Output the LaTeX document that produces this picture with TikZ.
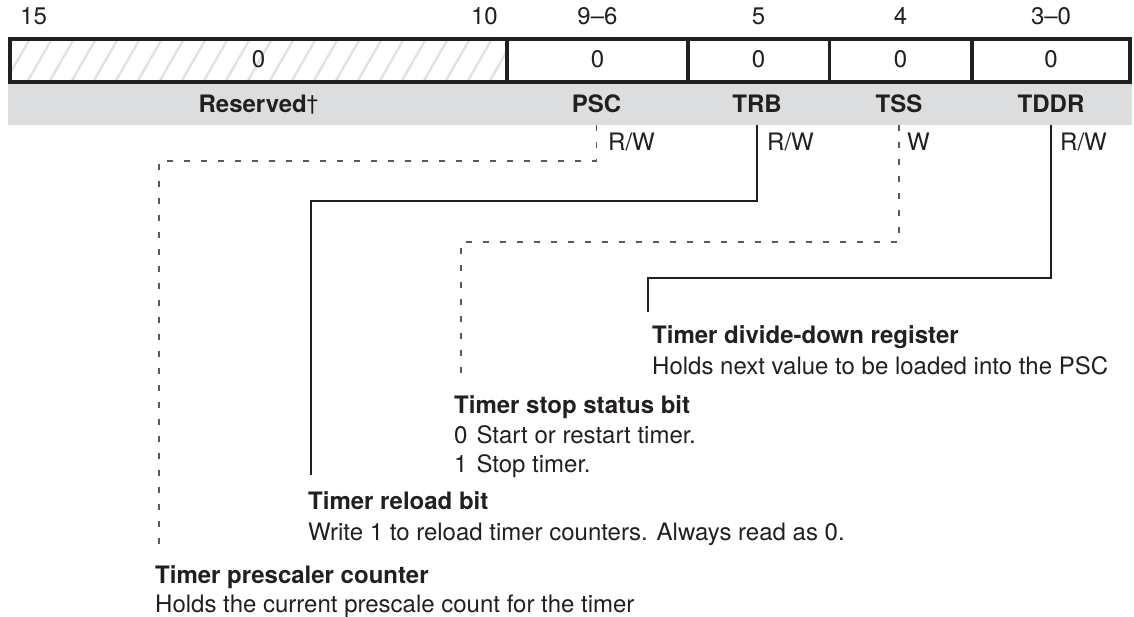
\documentclass[tikz,border=0pt]{standalone}
\usepackage{fontspec}
\setmainfont{TeX Gyre Heros}
\definecolor{ink}{RGB}{35,31,32}
\definecolor{band}{RGB}{220,221,223}
\definecolor{hatch}{RGB}{226,226,226}
\definecolor{dashgray}{RGB}{90,90,90}
\begin{document}
\begin{tikzpicture}[x=1pt,y=-1pt,
  txt/.style={font=\fontsize{24}{29}\selectfont, text=ink, inner sep=0pt},
  bitnum/.style={txt, anchor=base},
  cellval/.style={txt, anchor=base},
  fieldname/.style={txt, font=\fontsize{24}{29}\selectfont\bfseries, minimum height=41pt, text height=17pt, text depth=0pt, anchor=center},
  access/.style={txt, anchor=base west},
  head/.style={txt, font=\fontsize{24}{29}\selectfont\bfseries, anchor=base west},
  body/.style={txt, anchor=base west},
  solidc/.style={draw=ink, line width=1.1pt},
  dashc/.style={draw=dashgray, line width=1.1pt, dash pattern=on 6pt off 11pt},
  regline/.style={draw=ink, line width=3.3pt}
]
\useasboundingbox (0,0) rectangle (1134,617);
% hatch
\begin{scope}
  \clip (10,39) rectangle (507,82);
  \foreach \x in {-40,-18,...,520} {
    \draw[hatch, line width=2.4pt] (\x,84) -- (\x+27,37);
  }
\end{scope}
% gray band
\fill[band] (8.3,84) rectangle (1131.7,125);
% register outline and dividers
\draw[regline] (10,39) rectangle (1130,82);
\foreach \d in {507,688,829.5,972} { \draw[regline] (\d,39) -- (\d,82); }
% bit numbers
\node[bitnum, anchor=base west] (b15) at (20,25) {15};
\node[bitnum, anchor=base east] (b10) at (498,25) {10};
\node[bitnum] (b96) at (597.5,25) {9--6};
\node[bitnum] (b5) at (758.5,25) {5};
\node[bitnum] (b4) at (900.5,25) {4};
\node[bitnum] (b30) at (1051,25) {3--0};
% values
\node[cellval] (v1) at (258.5,68) {0};
\node[cellval] (v2) at (597.5,68) {0};
\node[cellval] (v3) at (758.5,68) {0};
\node[cellval] (v4) at (900.5,68) {0};
\node[cellval] (v5) at (1051,68) {0};
% field names
\node[fieldname] (res) at (258.5,104.5) {Reserved{\mdseries\fontsize{21}{24}\selectfont\raisebox{2pt}{\dag}}};
\node[fieldname] (psc) at (596.5,104.5) {PSC};
\node[fieldname] (trb) at (757,104.5) {TRB};
\node[fieldname] (tss) at (899,104.5) {TSS};
\node[fieldname] (tddr) at (1051,104.5) {TDDR};
% access
\node[access] (apsc) at (608,151) {R/W};
\node[access] (atrb) at (767,151) {R/W};
\node[access] (atss) at (907,151) {W};
\node[access] (atddr) at (1060,151) {R/W};
% descriptions
\node[head] (hddr) at (652,343) {Timer divide-down register};
\node[body] (bddr) at (652,374) {Holds next value to be loaded into the PSC};
\node[head] (hss) at (454,413) {Timer stop status bit};
\node[body] (bss0) at (454,443) {0\hspace{9pt}Start or restart timer.};
\node[body] (bss1) at (454,472) {1\hspace{9pt}Stop timer.};
\node[head] (hrb) at (308,509) {Timer reload bit};
\node[body] (brb) at (308,540) {Write 1 to reload timer counters. Always read as 0.};
\node[head] (hpc) at (155,583) {Timer prescaler counter};
\node[body] (bpc) at (155,612) {Holds the current prescale count for the timer};
% connector bends and ends
\coordinate (pscTurn) at (159,161);
\coordinate (pscEnd) at (159,552);
\coordinate (trbTurn) at (311,201);
\coordinate (trbEnd) at (311,475);
\coordinate (tssTurn) at (461,242);
\coordinate (tssEnd) at (461,378);
\coordinate (tddrTurn) at (648,278);
\coordinate (tddrEnd) at (648,312);
% connectors
\draw[dashc] (psc.south) |- (pscTurn) -- (pscEnd);
\draw[solidc] (trb.south) |- (trbTurn) -- (trbEnd);
\draw[dashc] (tss.south) |- (tssTurn) -- (tssEnd);
\draw[solidc] (tddr.south) |- (tddrTurn) -- (tddrEnd);
\end{tikzpicture}
\end{document}
